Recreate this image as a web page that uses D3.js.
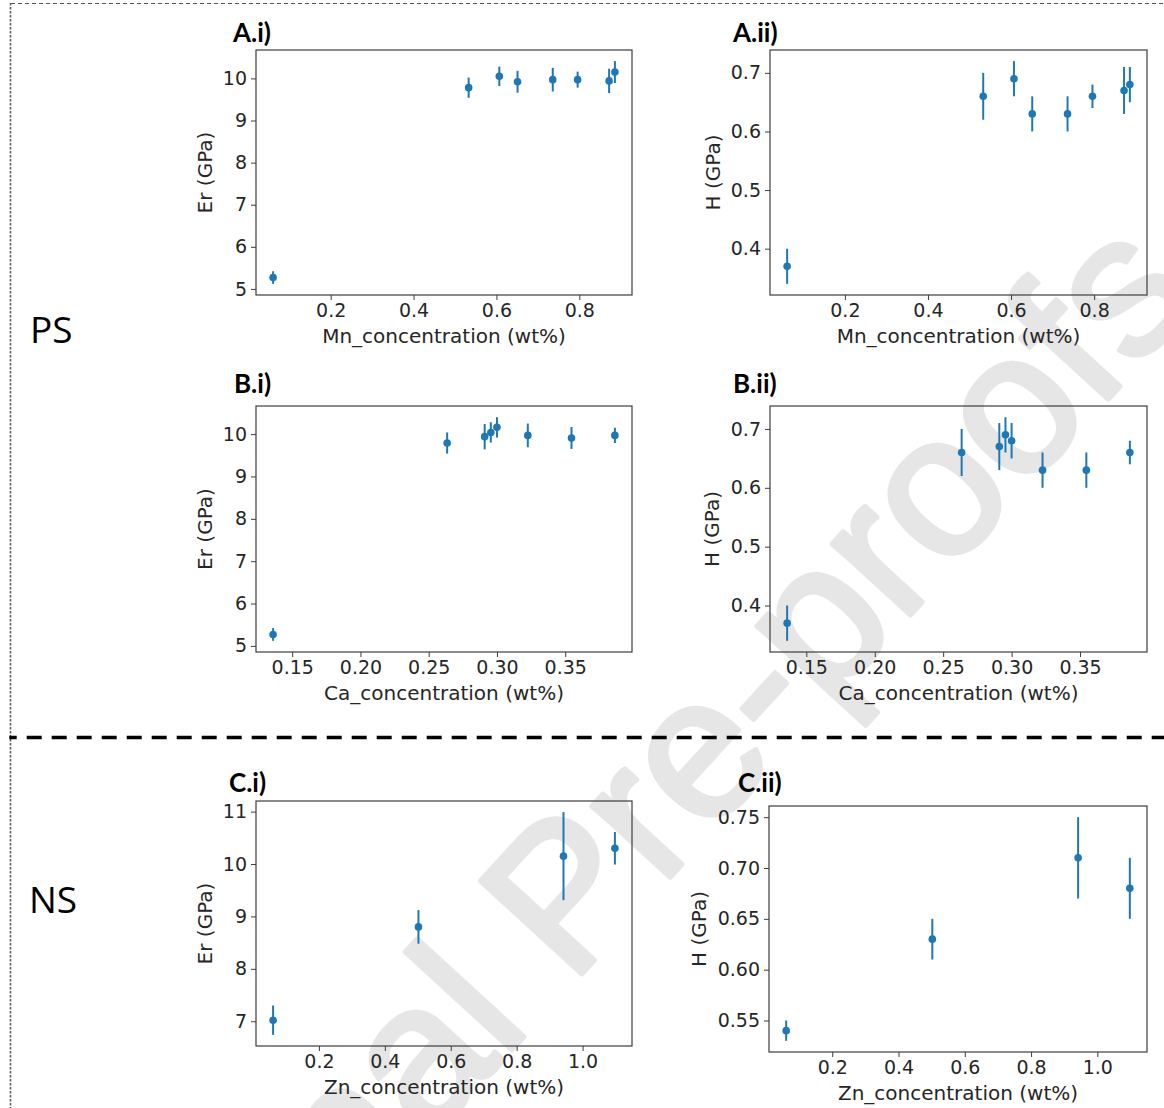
<!DOCTYPE html>
<html><head><meta charset="utf-8">
<script src="https://cdn.jsdelivr.net/npm/d3@7"></script>
<style>body{margin:0;background:#fff}</style>
</head><body><svg id="c" width="1164" height="1108"></svg>
<script>
// ---------------- data ----------------
const mnConc   = [0.061, 0.533, 0.607, 0.651, 0.736, 0.796, 0.872, 0.886];
const mnEr     = [5.27, 9.78, 10.05, 9.92, 9.97, 9.97, 9.94, 10.15];
const mnErErr  = [0.15, 0.24, 0.23, 0.26, 0.28, 0.19, 0.29, 0.26];
const mnH      = [0.37, 0.66, 0.69, 0.63, 0.63, 0.66, 0.67, 0.68];
const mnHErr   = [0.03, 0.04, 0.03, 0.03, 0.03, 0.02, 0.04, 0.03];

const caConc   = [0.136, 0.2635, 0.291, 0.2955, 0.300, 0.3226, 0.3546, 0.3864];
const caEr     = [5.27, 9.79, 9.94, 10.04, 10.16, 9.97, 9.91, 9.97];
const caErErr  = [0.15, 0.25, 0.30, 0.24, 0.24, 0.28, 0.26, 0.18];
const caH      = [0.37, 0.66, 0.67, 0.69, 0.68, 0.63, 0.63, 0.66];
const caHErr   = [0.03, 0.04, 0.04, 0.03, 0.03, 0.03, 0.03, 0.02];

const znConc   = [0.061, 0.502, 0.942, 1.098];
const znEr     = [7.02, 8.80, 10.15, 10.30];
const znErErr  = [0.28, 0.32, 0.84, 0.31];
const znH      = [0.54, 0.63, 0.71, 0.68];
const znHErr   = [0.01, 0.02, 0.04, 0.03];

const xTicksMn = [0.2, 0.4, 0.6, 0.8];
const xTicksCa = [0.15, 0.20, 0.25, 0.30, 0.35];
const xTicksZn = [0.2, 0.4, 0.6, 0.8, 1.0];
const yTicksEr = [5, 6, 7, 8, 9, 10];
const yTicksH  = [0.4, 0.5, 0.6, 0.7];
const yTicksErZn = [7, 8, 9, 10, 11];
const yTicksHZn  = [0.55, 0.60, 0.65, 0.70, 0.75];

const panelTitles = ['A.i)', 'A.ii)', 'B.i)', 'B.ii)', 'C.i)', 'C.ii)'];
const xLabels = ['Mn_concentration (wt%)', 'Mn_concentration (wt%)', 'Ca_concentration (wt%)', 'Ca_concentration (wt%)', 'Zn_concentration (wt%)', 'Zn_concentration (wt%)'];
const yLabels = ['Er (GPa)', 'H (GPa)', 'Er (GPa)', 'H (GPa)', 'Er (GPa)', 'H (GPa)'];
const groupLabels = ['PS', 'NS'];
const watermarkText = 'Journal Pre-proofs';

// ---------------- layout ----------------
const panels = [
  {x: mnConc, y: mnEr, e: mnErErr, xt: xTicksMn, yt: yTicksEr, xf: '.1f', yf: 'd',   box: [256, 50, 632, 295],   tx: 233, ty: 42,  ylx: 205},
  {x: mnConc, y: mnH,  e: mnHErr,  xt: xTicksMn, yt: yTicksH,  xf: '.1f', yf: '.1f', box: [770, 50, 1147, 295],  tx: 733, ty: 42,  ylx: 713},
  {x: caConc, y: caEr, e: caErErr, xt: xTicksCa, yt: yTicksEr, xf: '.2f', yf: 'd',   box: [256, 406, 632, 652],  tx: 234, ty: 393, ylx: 205},
  {x: caConc, y: caH,  e: caHErr,  xt: xTicksCa, yt: yTicksH,  xf: '.2f', yf: '.1f', box: [770, 406, 1147, 652], tx: 733, ty: 393, ylx: 712},
  {x: znConc, y: znEr, e: znErErr, xt: xTicksZn, yt: yTicksErZn, xf: '.1f', yf: 'd', box: [256, 801, 632, 1046], tx: 229, ty: 792, ylx: 205},
  {x: znConc, y: znH,  e: znHErr,  xt: xTicksZn, yt: yTicksHZn,  xf: '.1f', yf: '.2f', box: [769, 806, 1147, 1052], tx: 738, ty: 792, ylx: 699}
];

const BLUE = '#1f77b4';
const TXT = '#262626';
const FRAME = '#3d3d3d';
const WM = '#e6e6e6';

const svg = d3.select('#c');
svg.append('rect').attr('width', 1164).attr('height', 1108).attr('fill', '#fff');

// watermark
const wmSize = 200;
svg.append('text')
  .attr('transform', 'translate(588,967) rotate(-47.5)')
  .attr('x', -3.686 * wmSize)
  .attr('font-family', 'Liberation Sans, Arial, sans-serif')
  .attr('font-size', wmSize)
  .attr('fill', WM).attr('stroke', WM).attr('stroke-width', 5).attr('stroke-linejoin', 'round')
  .text(watermarkText);

// borders
svg.append('line').attr('x1', 11).attr('x2', 1164).attr('y1', 3.5).attr('y2', 3.5)
  .attr('stroke', '#555').attr('stroke-width', 1).attr('stroke-dasharray', '4,3');
svg.append('line').attr('x1', 10.5).attr('x2', 10.5).attr('y1', 3).attr('y2', 1108)
  .attr('stroke', '#555').attr('stroke-width', 1.5).attr('stroke-dasharray', '2.5,1.5');
svg.append('line').attr('x1', 9.3).attr('x2', 1164).attr('y1', 737.5).attr('y2', 737.5)
  .attr('stroke', '#000').attr('stroke-width', 3.3).attr('stroke-dasharray', '15,10').attr('stroke-dashoffset', 7.6);

// group labels
const gpos = [[30, 343], [29, 913]];
groupLabels.forEach((g, i) => {
  svg.append('text').attr('x', gpos[i][0]).attr('y', gpos[i][1])
    .attr('font-family', 'Open Sans, sans-serif').attr('font-size', 37).attr('fill', '#000').text(g);
});

function padDomain(lo, hi) { const p = (hi - lo) * 0.05; return [lo - p, hi + p]; }

panels.forEach((p, i) => {
  const [L, T, R, B] = p.box;
  const data = p.x.map((v, k) => ({x: v, y: p.y[k], e: p.e[k]}));
  const xs = d3.scaleLinear().domain(padDomain(d3.min(p.x), d3.max(p.x))).range([L, R]);
  const ys = d3.scaleLinear().domain(padDomain(d3.min(data, d => d.y - d.e), d3.max(data, d => d.y + d.e))).range([B, T]);
  const g = svg.append('g');

  const xa = g.append('g').attr('transform', `translate(0,${B})`)
    .call(d3.axisBottom(xs).tickValues(p.xt).tickFormat(d3.format(p.xf)).tickSize(5).tickPadding(4));
  const ya = g.append('g').attr('transform', `translate(${L},0)`)
    .call(d3.axisLeft(ys).tickValues(p.yt).tickFormat(d3.format(p.yf)).tickSize(5).tickPadding(4));
  [xa, ya].forEach(a => {
    a.select('.domain').remove();
    a.selectAll('line').attr('stroke', FRAME).attr('stroke-width', 1);
    a.selectAll('text').attr('font-family', 'DejaVu Sans, sans-serif').attr('font-size', 19).attr('fill', TXT);
  });

  g.append('rect').attr('x', L).attr('y', T).attr('width', R - L).attr('height', B - T)
    .attr('fill', 'none').attr('stroke', FRAME).attr('stroke-width', 1.2);

  g.selectAll('.eb').data(data).join('line')
    .attr('x1', d => xs(d.x)).attr('x2', d => xs(d.x))
    .attr('y1', d => ys(d.y - d.e)).attr('y2', d => ys(d.y + d.e))
    .attr('stroke', BLUE).attr('stroke-width', 2);
  g.selectAll('.pt').data(data).join('circle')
    .attr('cx', d => xs(d.x)).attr('cy', d => ys(d.y)).attr('r', 3.8).attr('fill', BLUE);

  g.append('text').attr('x', (L + R) / 2).attr('y', B + 48).attr('text-anchor', 'middle')
    .attr('font-family', 'DejaVu Sans, sans-serif').attr('font-size', 20).attr('fill', TXT).text(xLabels[i]);
  g.append('text').attr('transform', `translate(${p.ylx},${(T + B) / 2}) rotate(-90)`).attr('dy', '0.35em')
    .attr('text-anchor', 'middle')
    .attr('font-family', 'DejaVu Sans, sans-serif').attr('font-size', 20).attr('fill', TXT).text(yLabels[i]);
  g.append('text').attr('x', p.tx).attr('y', p.ty)
    .attr('font-family', 'Lato, sans-serif').attr('font-weight', 'bold').attr('font-size', 26).attr('fill', '#000')
    .text(panelTitles[i]);
});
</script></body></html>
